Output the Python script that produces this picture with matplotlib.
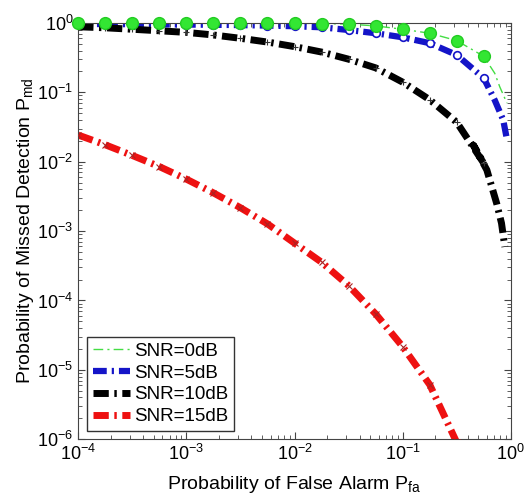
import matplotlib.pyplot as plt

plt.rcParams['font.family'] = ['Liberation Sans', 'DejaVu Sans']
plt.rcParams['mathtext.fontset'] = 'custom'
plt.rcParams['mathtext.rm'] = 'Liberation Sans'
plt.rcParams['mathtext.it'] = 'Liberation Sans:italic'

# false alarm grid where the markers sit (quarter decades)
pfa = [1e-4, 1.78e-4, 3.16e-4, 5.62e-4, 1e-3, 1.78e-3, 3.16e-3, 5.62e-3,
       1e-2, 1.78e-2, 3.16e-2, 5.62e-2, 1e-1, 1.78e-1, 3.16e-1, 5.62e-1]

# missed detection
pmd_0db = [0.995, 0.995, 0.995, 0.995, 0.995, 0.995, 0.994, 0.992,
           0.988, 0.98, 0.962, 0.905, 0.81, 0.71, 0.556, 0.33]
pmd_5db = [0.965, 0.962, 0.958, 0.953, 0.947, 0.94, 0.93, 0.915,
           0.895, 0.865, 0.79, 0.71, 0.62, 0.51, 0.345, 0.16]
pmd_10db = [0.88, 0.85, 0.81, 0.77, 0.73, 0.67, 0.60, 0.53,
            0.455, 0.38, 0.30, 0.225, 0.14, 0.078, 0.037, 0.0095]
pmd_15db = [0.0242, 0.0175, 0.0123, 0.0085, 0.0056, 0.00355, 0.00217, 0.00127,
            6.7e-4, 3.55e-4, 1.64e-4, 6.4e-5, 2.16e-5, 6.1e-6, 9e-7]

# ends of the curves near Pfa = 1
tail_pfa_0db = [0.71, 0.79, 0.92]
tail_pmd_0db = [0.188, 0.12, 0.07]
tail_pfa_5db = [0.71, 0.85, 0.91]
tail_pmd_5db = [0.077, 0.040, 0.023]
tail_pfa_10db = [0.45, 0.60, 0.74, 0.82, 0.88]
tail_pmd_10db = [0.0174, 0.0076, 0.0025, 0.0013, 5.9e-4]

labels = ['SNR=0dB', 'SNR=5dB', 'SNR=10dB', 'SNR=15dB']

fig = plt.figure(figsize=(5.25, 4.98), dpi=100)
ax = fig.add_axes([0.149, 0.118, 0.824, 0.836])

dash = (2.2, 0.8, 0.35, 0.8)

ax.plot(pfa + tail_pfa_0db, pmd_0db + tail_pmd_0db, color='#44dd44', lw=1.0,
        linestyle=(0, (7, 3, 1.5, 3)), label=labels[0])
ax.plot(pfa, pmd_0db, 'o', color='#33e633', ms=8.5, mec='#22cc22', clip_on=False, zorder=5)

ax.plot(pfa + tail_pfa_5db, pmd_5db + tail_pmd_5db, color='#1414c8', lw=4.5,
        dashes=dash, label=labels[1])
ax.plot(pfa, pmd_5db, 'o', mfc='white', mec='#1414c8', ms=5.5, mew=1.2, zorder=4)

ax.plot(pfa + tail_pfa_10db, pmd_10db + tail_pmd_10db, color='black', lw=5,
        dashes=dash, label=labels[2])
ax.plot(pfa, pmd_10db, '+', color='#333333', ms=4, mew=0.8, zorder=4)

ax.plot(pfa[:len(pmd_15db)], pmd_15db, color='#ee1111', lw=5,
        dashes=dash, label=labels[3])
ax.plot(pfa[:len(pmd_15db)], pmd_15db, 'x', color='#aa2222', ms=4, mew=0.8, zorder=4)

ax.set_xscale('log')
ax.set_yscale('log')
ax.set_xlim(1e-4, 1)
ax.set_ylim(1e-6, 1)

for s in ax.spines.values():
    s.set_color('#444444')
ax.tick_params(which='both', direction='in', top=True, right=True,
               colors='#444444', labelcolor='black', labelsize=13)
ax.tick_params(which='major', length=5)
ax.tick_params(which='minor', length=3)

ax.set_xlabel('Probability of False Alarm P$_{\\rm fa}$', fontsize=14, labelpad=7)
ax.set_ylabel('Probability of Missed Detection P$_{\\rm md}$', fontsize=14, labelpad=1)

leg = ax.legend(loc='lower left', bbox_to_anchor=(0.02, 0.02), borderaxespad=0,
                fancybox=False, fontsize=13.5, labelspacing=0.25, handlelength=2.0,
                handletextpad=0.2, borderpad=0.3, framealpha=1)
leg.get_frame().set_edgecolor('#333333')
leg.get_frame().set_linewidth(1.0)

fig.savefig('out.png', dpi=100)
